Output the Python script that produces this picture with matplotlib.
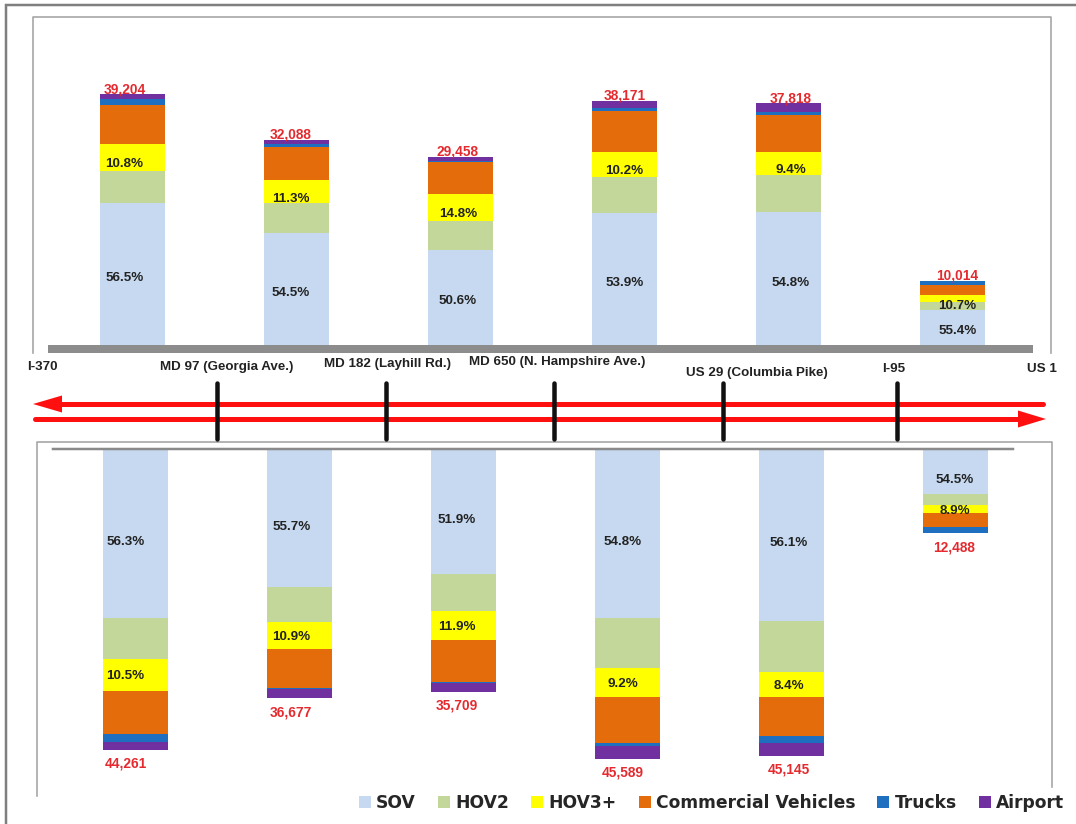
"""
Georgia Ave / ICC corridor style volume chart: vehicle mix by segment,
westbound on top, eastbound hanging below, with the road strip between.
"""
import numpy as np
import matplotlib.pyplot as plt
from matplotlib.patches import Polygon

###################
# Data            #
###################
interchanges = ["I-370", "MD 97 (Georgia Ave.)", "MD 182 (Layhill Rd.)",
                "MD 650 (N. Hampshire Ave.)", "US 29 (Columbia Pike)", "I-95", "US 1"]
modes = ["SOV", "HOV2", "HOV3+", "Commercial Vehicles", "Trucks", "Airport"]
colors = ["#c6d9f0", "#c4d79b", "#ffff00", "#e46c0a", "#1f6fc0", "#7030a0"]

# top panel (westbound), shares in percent
total_wb = [39204, 32088, 29458, 38171, 37818, 10014]
sov_wb = [56.5, 54.5, 50.6, 53.9, 54.8, 55.4]
hov2_wb = [13.0, 14.6, 15.0, 15.0, 15.6, 11.4]
hov3_wb = [10.8, 11.3, 14.8, 10.2, 9.4, 10.7]
comm_wb = [15.4, 16.3, 16.5, 16.8, 15.3, 15.8]
truck_wb = [2.3, 1.3, 0.8, 1.2, 1.4, 6.7]
air_wb = [2.0, 2.0, 2.3, 2.9, 3.5, 0.0]

# bottom panel (eastbound)
total_eb = [44261, 36677, 35709, 45589, 45145, 12488]
sov_eb = [56.3, 55.7, 51.9, 54.8, 56.1, 54.5]
hov2_eb = [13.6, 13.9, 15.1, 16.1, 16.5, 13.0]
hov3_eb = [10.5, 10.9, 11.9, 9.2, 8.4, 8.9]
comm_eb = [14.3, 15.3, 17.2, 14.9, 12.4, 16.6]
truck_eb = [2.7, 0.7, 0.3, 0.9, 2.5, 7.0]
air_eb = [2.6, 3.5, 3.6, 4.1, 4.1, 0.0]

shares_wb = np.array([sov_wb, hov2_wb, hov3_wb, comm_wb, truck_wb, air_wb])
shares_eb = np.array([sov_eb, hov2_eb, hov3_eb, comm_eb, truck_eb, air_eb])
vals_wb = shares_wb / 100 * np.array(total_wb)
vals_eb = shares_eb / 100 * np.array(total_eb)

###################
# Layout (pixels) #
###################
W, H = 1076, 824
STEP = 164.0  # px between bar centres
BAR_W = 65 / STEP
LINE_GRAY = "#a3a3a3"
TXT = "#222222"
RED_TXT = "#e42a2f"
px = 0.72  # points per pixel at dpi 100


def px_box(l, t, r, b):
    return [l / W, 1 - b / H, (r - l) / W, (b - t) / H]


fig = plt.figure(figsize=(W / 100, H / 100), dpi=100)

# background / decoration layer in pixel coordinates
bg = fig.add_axes([0, 0, 1, 1], zorder=0)
bg.set_xlim(0, W)
bg.set_ylim(H, 0)
bg.axis("off")

# outer frame (left + top only)
bg.plot([6, 6, W], [H, 4.5, 4.5], color="#7f7f7f", lw=2.5 * px, solid_joinstyle="miter")
# top panel box
bg.plot([33, 33, 1051, 1051], [353, 17, 17, 353], color=LINE_GRAY, lw=1.6 * px)
# bottom panel box
bg.plot([37, 37, 1052, 1052], [796, 442, 442, 787], color=LINE_GRAY, lw=1.6 * px)

# red direction arrows
red = "#ff1010"
bg.plot([58, 1043], [404, 404], color=red, lw=5 * px, solid_capstyle="round")
bg.add_patch(Polygon([(33, 404), (62, 395.5), (62, 412.5)], closed=True, color=red, lw=0))
bg.plot([35, 1022], [419, 419], color=red, lw=5 * px, solid_capstyle="round")
bg.add_patch(Polygon([(1046, 419), (1018, 410.5), (1018, 427.5)], closed=True, color=red, lw=0))

# interchange markers and names
marker_x = [217, 386, 554, 723, 897]
for mx in marker_x:
    bg.plot([mx, mx], [383, 439], color="#111111", lw=4.5 * px, solid_capstyle="round")

name_x = [42, 227, 387, 557, 757, 894, 1042]
name_y = [367, 367, 364, 362, 373, 369, 369]
for name, nx, ny in zip(interchanges, name_x, name_y):
    bg.text(nx, ny, name, ha="center", va="center", fontsize=9.6,
            family="Liberation Sans", weight="bold", color=TXT)

x = np.arange(len(total_wb))

###################
# Top panel       #
###################
top_scale = 0.006395  # px per vehicle
ax_t = fig.add_axes(px_box(33, 17, 1051, 353), zorder=1)
ax_t.set_facecolor("none")
ax_t.axis("off")
x0_t = -(132.5 - 33) / STEP
ax_t.set_xlim(x0_t, x0_t + 1018 / STEP)
ax_t.set_ylim(-8 / top_scale, 328 / top_scale)

cum = np.zeros(len(x))
for j, mode in enumerate(modes):
    ax_t.bar(x, vals_wb[j], bottom=cum, width=BAR_W, color=colors[j], lw=0, zorder=2, label=mode)
    cum += vals_wb[j]
ax_t.axhspan(-8 / top_scale, 0, xmin=15 / 1018, xmax=1000 / 1018, color="#8c8c8c", lw=0, zorder=3)

###################
# Bottom panel    #
###################
bot_scale = 0.00682
ax_b = fig.add_axes(px_box(37, 442, 1052, 796), zorder=1)
ax_b.set_facecolor("none")
ax_b.axis("off")
x0_b = -(135.5 - 37) / STEP
ax_b.set_xlim(x0_b, x0_b + 1015 / STEP)
ax_b.set_ylim(348 / bot_scale, -6 / bot_scale)

cum = np.zeros(len(x))
bar_handles = []
for j, mode in enumerate(modes):
    bc = ax_b.bar(x, vals_eb[j], bottom=cum, width=BAR_W, color=colors[j], lw=0, zorder=2, label=mode)
    bar_handles.append(bc)
    cum += vals_eb[j]
ax_b.axhline(1 / bot_scale, xmin=16 / 1015, xmax=976 / 1015, color="#8a8a8a", lw=2.5 * px, zorder=3)


###################
# Labels          #
###################
def label_bars(ax, shares, vals, totals, shift_px, sov_dy, hov3_dy, tot_dy):
    # dy values are screen pixels, positive = downwards
    for i in range(len(totals)):
        lx = x[i] + shift_px[i] / STEP
        sov_mid = vals[0, i] / 2
        hov3_mid = vals[0, i] + vals[1, i] + vals[2, i] / 2
        kw = dict(textcoords="offset points", ha="center", va="center",
                  family="Liberation Sans", weight="bold", zorder=5)
        ax.annotate(f"{shares[0, i]:.1f}%", (lx, sov_mid), xytext=(0, -sov_dy * px),
                    fontsize=9.6, color=TXT, **kw)
        ax.annotate(f"{shares[2, i]:.1f}%", (lx, hov3_mid), xytext=(0, -hov3_dy * px),
                    fontsize=9.6, color=TXT, **kw)
        ax.annotate(f"{totals[i]:,}", (lx, totals[i]), xytext=(0, -tot_dy * px),
                    fontsize=9.9, color=RED_TXT, **kw)


label_bars(ax_t, shares_wb, vals_wb, total_wb, np.linspace(-8, 5, 6), 4, 7, -5)
label_bars(ax_b, shares_eb, vals_eb, total_eb, np.linspace(-10, -1, 6), 9, 1.5, 14)

###################
# Legend          #
###################
fig.legend(bar_handles, modes, ncol=6, loc="center right",
           bbox_to_anchor=(1064 / W, 1 - 803 / H), frameon=False,
           prop=dict(family="DejaVu Sans", weight="bold", size=12.3),
           labelcolor="#262626", handlelength=0.7, handleheight=0.7,
           handletextpad=0.3, columnspacing=1.3, borderpad=0, borderaxespad=0)

fig.savefig("out.png", dpi=100)
